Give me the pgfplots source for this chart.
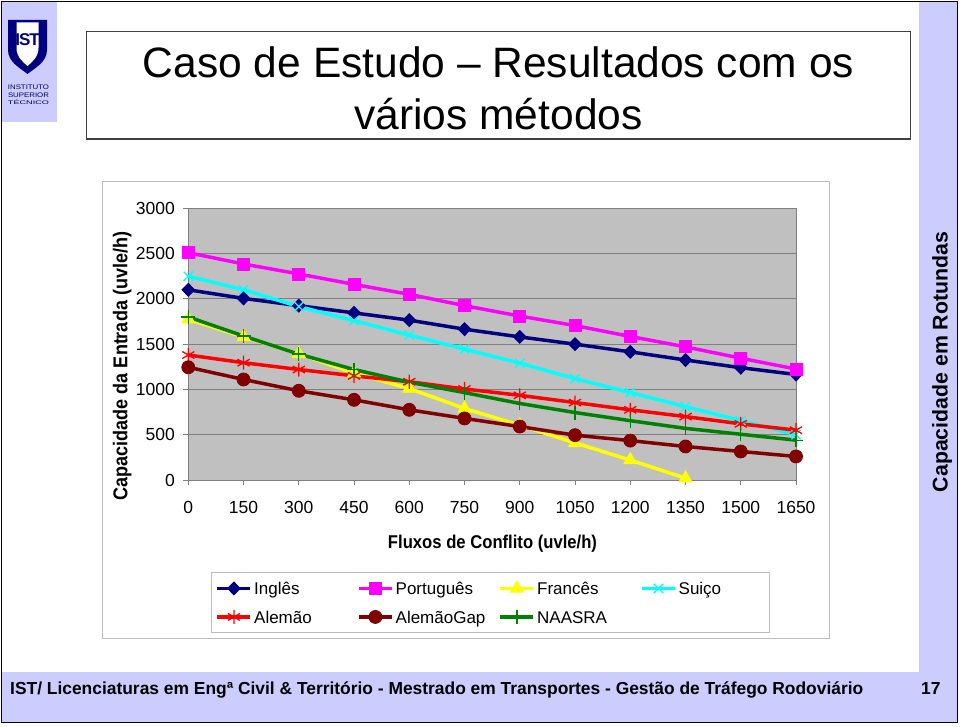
\documentclass[border=0pt]{standalone}
\usepackage{pgfplots}
\pgfplotsset{compat=1.18}
\usepackage{fontspec}
\setmainfont{Liberation Sans}
\usepackage{graphicx}
\definecolor{lav}{HTML}{CCCCFF}
\definecolor{navyc}{HTML}{000080}
\definecolor{magc}{HTML}{FF00FF}
\definecolor{yelc}{HTML}{FFFF00}
\definecolor{cyac}{HTML}{00FFFF}
\definecolor{redc}{HTML}{FF0000}
\definecolor{dredc}{HTML}{800000}
\definecolor{grnc}{HTML}{008000}
\definecolor{plotbg}{HTML}{C0C0C0}
\definecolor{framec}{HTML}{BDBDBD}
\begin{document}
\begin{tikzpicture}
\useasboundingbox (0,0) rectangle (960pt,726pt);
\begin{scope}[x=1pt,y=-1pt,shift={(0pt,726pt)}]
 \fill[white] (0,0) rectangle (960,726);
 \fill[lav] (2,2) rectangle (57,122);
 \fill[lav] (919,2) rectangle (957,722);
 \fill[lav] (2,672) rectangle (957,722);
 \draw[black, line width=1.5pt] (1.5,1.5) rectangle (957.5,722.5);
 % logo
 \fill[navyc] (8,20) -- (47,20) -- (47,50) .. controls (47,62) and (35,68) .. (27.5,74) .. controls (20,68) and (8,62) .. (8,50) -- cycle;
 \fill[white] (16.5,22.5) -- (38.5,22.5) -- (38.5,48) .. controls (38.5,57) and (32,62) .. (27.5,66) .. controls (23,62) and (16.5,57) .. (16.5,48) -- cycle;
 \node[text=navyc, inner sep=0pt] at (27.5,40) {\fontsize{17}{17}\selectfont\bfseries I\kern-1ptS\kern-1ptT};
 \node[text=navyc!70!black, inner sep=0pt] at (28.5,87.5) {\resizebox{41pt}{4.6pt}{INSTITUTO}};
 \node[text=navyc!70!black, inner sep=0pt] at (28.5,95) {\resizebox{41pt}{4.6pt}{SUPERIOR}};
 \node[text=navyc!70!black, inner sep=0pt] at (28.5,102.5) {\resizebox{41pt}{4.6pt}{TÉCNICO}};
 % title box
 \draw[black!75, line width=1.3pt] (86.5,31.5) rectangle (910.5,139);
 \node[anchor=base, inner sep=0pt] at (498.5,78) {\fontsize{42.5}{50}\selectfont Caso de Estudo – Resultados com os};
 \node[anchor=base, inner sep=0pt] at (498.5,130) {\fontsize{42.5}{50}\selectfont vários métodos};
 % chart frame
 \draw[framec, line width=0.9pt] (102.5,181) rectangle (829,638.5);
 % axis labels
 \node[rotate=90, anchor=base, inner sep=0pt] at (127.3,366) {\scalebox{0.9}[1]{\fontsize{20}{24}\selectfont\bfseries Capacidade da Entrada (uvle/h)}};
 \node[anchor=base, inner sep=0pt] at (492.5,548.3) {\scalebox{0.9}[1]{\fontsize{18.5}{22}\selectfont\bfseries Fluxos de Conflito (uvle/h)}};
 % side and footer
 \node[rotate=90, anchor=base, inner sep=0pt] at (947.5,362) {\fontsize{21.3}{25}\selectfont\bfseries Capacidade em Rotundas};
 \node[anchor=base west, inner sep=0pt] at (10,694) {\fontsize{17.4}{20}\selectfont\bfseries IST/ Licenciaturas em Engª Civil \& Território - Mestrado em Transportes - Gestão de Tráfego Rodoviário};
 \node[anchor=base west, inner sep=0pt] at (921,694) {\fontsize{17.4}{20}\selectfont\bfseries 17};
\end{scope}
\begin{axis}[
 at={(188.3pt,246pt)}, anchor=south west,
 width=607.7pt, height=271.7pt, scale only axis,
 xmin=0, xmax=1650, ymin=0, ymax=3000,
 xtick={0,150,...,1650}, ytick={0,500,...,3000},
 axis background/.style={fill=plotbg},
 ymajorgrids, grid style={draw=gray, line width=0.8pt},
 axis line style={draw=gray, line width=1pt},
 tick align=outside, major tick length=5pt, tick style={draw=gray, line width=0.8pt},
 tick pos=left,
 ticklabel style={font=\fontsize{17.5}{20}\selectfont},
 /pgf/number format/assume math mode=true,
 /pgf/number format/1000 sep={},
 scaled ticks=false,
 yticklabel style={xshift=-5pt},
 xticklabel style={yshift=-13pt},
 clip=false,
 every axis plot/.append style={line width=3.5pt},
 legend columns=4,
 legend cell align=left,
 legend image code/.code={\draw[mark repeat=2,mark phase=2] plot coordinates {(0pt,0pt) (16.5pt,0pt) (33pt,0pt)};},
 legend style={at={(0.0369,-0.3386)}, anchor=north west, draw=framec, line width=0.9pt, fill=white,
   inner xsep=4.5pt, inner ysep=8.5pt, column sep=0pt, row sep=15pt,
   font=\fontsize{17}{20}\selectfont,
   nodes={inner sep=0pt, text height=12.2pt, text depth=0pt}},
]
\addplot[navyc, mark=diamond*, mark size=6.5pt, mark options={solid, line width=0.8pt, xscale=1.3}] coordinates {
(0,2100) (150,2005) (300,1925) (450,1845) (600,1765) (750,1665) (900,1580) (1050,1500) (1200,1415) (1350,1325) (1500,1240) (1650,1165)};
\addlegendentry{\makebox[105pt][l]{\hspace{2pt}Inglês}}
\addplot[magc, mark=square*, mark size=6pt, mark options={solid, line width=0.8pt}] coordinates {
(0,2510) (150,2385) (300,2275) (450,2160) (600,2050) (750,1925) (900,1810) (1050,1705) (1200,1585) (1350,1470) (1500,1345) (1650,1225)};
\addlegendentry{\makebox[105pt][l]{\hspace{2pt}Português}}
\addplot[yelc, mark=triangle*, mark size=7.5pt, mark options={solid, line width=0.8pt}] coordinates {
(0,1775) (150,1580) (300,1395) (450,1180) (600,1010) (750,790) (900,605) (1050,410) (1200,220) (1350,20)};
\addlegendentry{\makebox[105pt][l]{\hspace{2pt}Francês}}
\addplot[cyac, mark=x, mark size=6.5pt, mark options={solid, line width=1.3pt}] coordinates {
(0,2250) (150,2100) (300,1915) (450,1760) (600,1600) (750,1445) (900,1290) (1050,1120) (1200,965) (1350,810) (1500,655) (1650,500)};
\addlegendentry{\makebox[88pt][l]{\hspace{2pt}Suiço}}
\addplot[redc, mark=asterisk, mark size=7pt, mark options={solid, line width=1.3pt}] coordinates {
(0,1380) (150,1295) (300,1220) (450,1150) (600,1085) (750,1005) (900,935) (1050,855) (1200,775) (1350,700) (1500,620) (1650,550)};
\addlegendentry{\makebox[105pt][l]{\hspace{2pt}Alemão}}
\addplot[dredc, mark=*, mark size=6.5pt, mark options={solid, line width=0.8pt}] coordinates {
(0,1245) (150,1110) (300,985) (450,885) (600,775) (750,680) (900,590) (1050,495) (1200,435) (1350,370) (1500,315) (1650,260)};
\addlegendentry{\makebox[105pt][l]{\hspace{2pt}AlemãoGap}}
\addplot[grnc, mark=+, mark size=7pt, mark options={solid, line width=1.3pt}] coordinates {
(0,1800) (150,1590) (300,1390) (450,1220) (600,1080) (750,965) (900,845) (1050,745) (1200,655) (1350,570) (1500,505) (1650,440)};
\addlegendentry{\makebox[105pt][l]{\hspace{2pt}NAASRA}}
\end{axis}
\end{tikzpicture}
\end{document}
